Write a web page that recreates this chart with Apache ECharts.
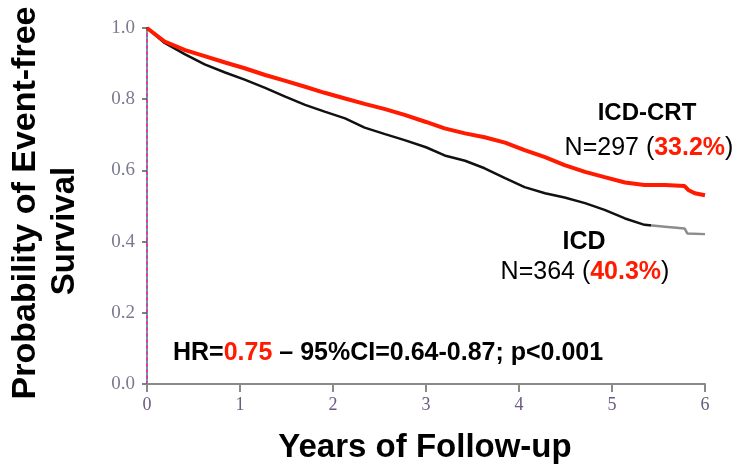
<!DOCTYPE html>
<html>
<head>
<meta charset="utf-8">
<script src="https://cdn.jsdelivr.net/npm/echarts@6/dist/echarts.min.js"></script>
<style>
html,body{margin:0;padding:0;background:#fff;}
#chart{width:736px;height:470px;}
</style>
</head>
<body>
<div id="chart"></div>
<script>
// ---- Data ----
var xTicks = [0, 1, 2, 3, 4, 5, 6];
var yTicks = [0.0, 0.2, 0.4, 0.6, 0.8, 1.0];

var crtYears = [0, 0.19, 0.41, 0.62, 0.84, 1.05, 1.27, 1.48, 1.70, 1.91, 2.13, 2.34, 2.56, 2.77, 3.00, 3.20, 3.42, 3.63, 3.85, 4.06, 4.28, 4.49, 4.71, 4.92, 5.14, 5.35, 5.57, 5.78, 5.82, 5.89, 6.0];
var crtSurv  = [1.0, 0.962, 0.938, 0.921, 0.903, 0.887, 0.868, 0.852, 0.835, 0.818, 0.802, 0.787, 0.772, 0.756, 0.736, 0.718, 0.704, 0.693, 0.678, 0.657, 0.637, 0.615, 0.596, 0.581, 0.566, 0.559, 0.559, 0.556, 0.545, 0.536, 0.530];

var icdYears = [0, 0.19, 0.41, 0.62, 0.84, 1.05, 1.27, 1.48, 1.70, 1.91, 2.13, 2.34, 2.56, 2.77, 3.00, 3.20, 3.42, 3.63, 3.85, 4.06, 4.28, 4.49, 4.71, 4.92, 5.14, 5.35, 5.57, 5.78, 5.81, 6.0];
var icdSurv  = [1.0, 0.958, 0.926, 0.898, 0.875, 0.855, 0.832, 0.808, 0.784, 0.765, 0.746, 0.720, 0.702, 0.685, 0.665, 0.642, 0.627, 0.606, 0.578, 0.553, 0.536, 0.524, 0.508, 0.489, 0.465, 0.447, 0.442, 0.437, 0.423, 0.421];

var groupNames = ['ICD-CRT', 'ICD'];
var groupN = [297, 364];
var groupPct = ['33.2%', '40.3%'];
var hrText = ['HR=', '0.75', ' – 95%CI=0.64-0.87; p<0.001'];
var xTitle = 'Years of Follow-up';
var yTitle = ['Probability of Event-free', 'Survival'];

function pairs(xs, ys){ return xs.map(function(x,i){ return [x, ys[i]]; }); }

var chart = echarts.init(document.getElementById('chart'), null, {renderer:'canvas'});
var sans = '"Liberation Sans", Arial, sans-serif';
var serif = '"Liberation Serif", "Times New Roman", serif';
var RED = '#ff1a00';

var option = {
  animation: false,
  backgroundColor: '#fff',
  grid: {left: 147, right: 31, top: 28, bottom: 86, containLabel: false},
  xAxis: {
    type: 'value', min: 0, max: 6, interval: 1,
    axisLine: {show: true, lineStyle: {color: '#8a8a8a', width: 2}},
    axisTick: {show: true, length: 8, lineStyle: {color: '#8a8a8a', width: 2}},
    axisLabel: {fontFamily: serif, fontSize: 18, color: '#6a5a80', margin: 12,
      formatter: function(v){ return xTicks.indexOf(v) >= 0 ? String(v) : ''; }},
    splitLine: {show: false}
  },
  yAxis: [{
    type: 'value', min: 0, max: 1, interval: 0.2,
    axisLine: {show: true, lineStyle: {color: '#2fbfa0', width: 2}},
    axisTick: {show: true, length: 5, lineStyle: {color: '#555', width: 1.5}},
    axisLabel: {fontFamily: serif, fontSize: 19, color: '#7a7a90', margin: 12,
      formatter: function(v){ var t = yTicks.find(function(k){return Math.abs(k-v)<1e-6;}); return t === undefined ? '' : t.toFixed(1); }},
    splitLine: {show: false}
  }, {
    type: 'value', min: 0, max: 1, interval: 0.2, position: 'left',
    axisLine: {show: true, lineStyle: {color: '#ff2aa0', width: 2, type: [2, 4]}},
    axisTick: {show: false}, axisLabel: {show: false}, splitLine: {show: false}
  }],
  series: [{
    name: groupNames[1], type: 'line', data: pairs(icdYears, icdSurv),
    showSymbol: false, symbol: 'none', smooth: false, z: 2,
    lineStyle: {width: 2.5, color: new echarts.graphic.LinearGradient(0, 0, 1, 0, [
      {offset: 0, color: '#111'}, {offset: 0.9, color: '#111'},
      {offset: 0.9, color: '#8c8c8c'}, {offset: 1, color: '#8c8c8c'}])}
  }, {
    name: groupNames[0], type: 'line', data: pairs(crtYears, crtSurv),
    showSymbol: false, symbol: 'none', smooth: false, z: 3,
    lineStyle: {width: 4, color: RED}
  }],
  graphic: [
    {type: 'text', x: 647, y: 113, style: {text: groupNames[0], font: 'bold 24px ' + sans, fill: '#000', align: 'center', verticalAlign: 'middle'}},
    {type: 'text', x: 649, y: 148, style: {text: '{a|N=' + groupN[0] + ' (}{b|' + groupPct[0] + '}{a|)}', align: 'center', verticalAlign: 'middle',
      rich: {a: {font: '25px ' + sans, fill: '#000'}, b: {font: 'bold 25px ' + sans, fill: RED}}}},
    {type: 'text', x: 584, y: 242, style: {text: groupNames[1], font: 'bold 25px ' + sans, fill: '#000', align: 'center', verticalAlign: 'middle'}},
    {type: 'text', x: 585, y: 272, style: {text: '{a|N=' + groupN[1] + ' (}{b|' + groupPct[1] + '}{a|)}', align: 'center', verticalAlign: 'middle',
      rich: {a: {font: '25px ' + sans, fill: '#000'}, b: {font: 'bold 25px ' + sans, fill: RED}}}},
    {type: 'text', x: 173, y: 353, style: {text: '{a|' + hrText[0] + '}{b|' + hrText[1] + '}{a|' + hrText[2] + '}', align: 'left', verticalAlign: 'middle',
      rich: {a: {font: 'bold 25px ' + sans, fill: '#000'}, b: {font: 'bold 25px ' + sans, fill: RED}}}},
    {type: 'text', x: 425, y: 448, style: {text: xTitle, font: 'bold 33px ' + sans, fill: '#000', align: 'center', verticalAlign: 'middle'}},
    {type: 'text', x: 26, y: 203, rotation: Math.PI / 2, style: {text: yTitle[0], font: 'bold 34px ' + sans, fill: '#000', align: 'center', verticalAlign: 'middle'}},
    {type: 'text', x: 65, y: 231, rotation: Math.PI / 2, style: {text: yTitle[1], font: 'bold 33px ' + sans, fill: '#000', align: 'center', verticalAlign: 'middle'}}
  ]
};
chart.setOption(option);
</script>
</body>
</html>
